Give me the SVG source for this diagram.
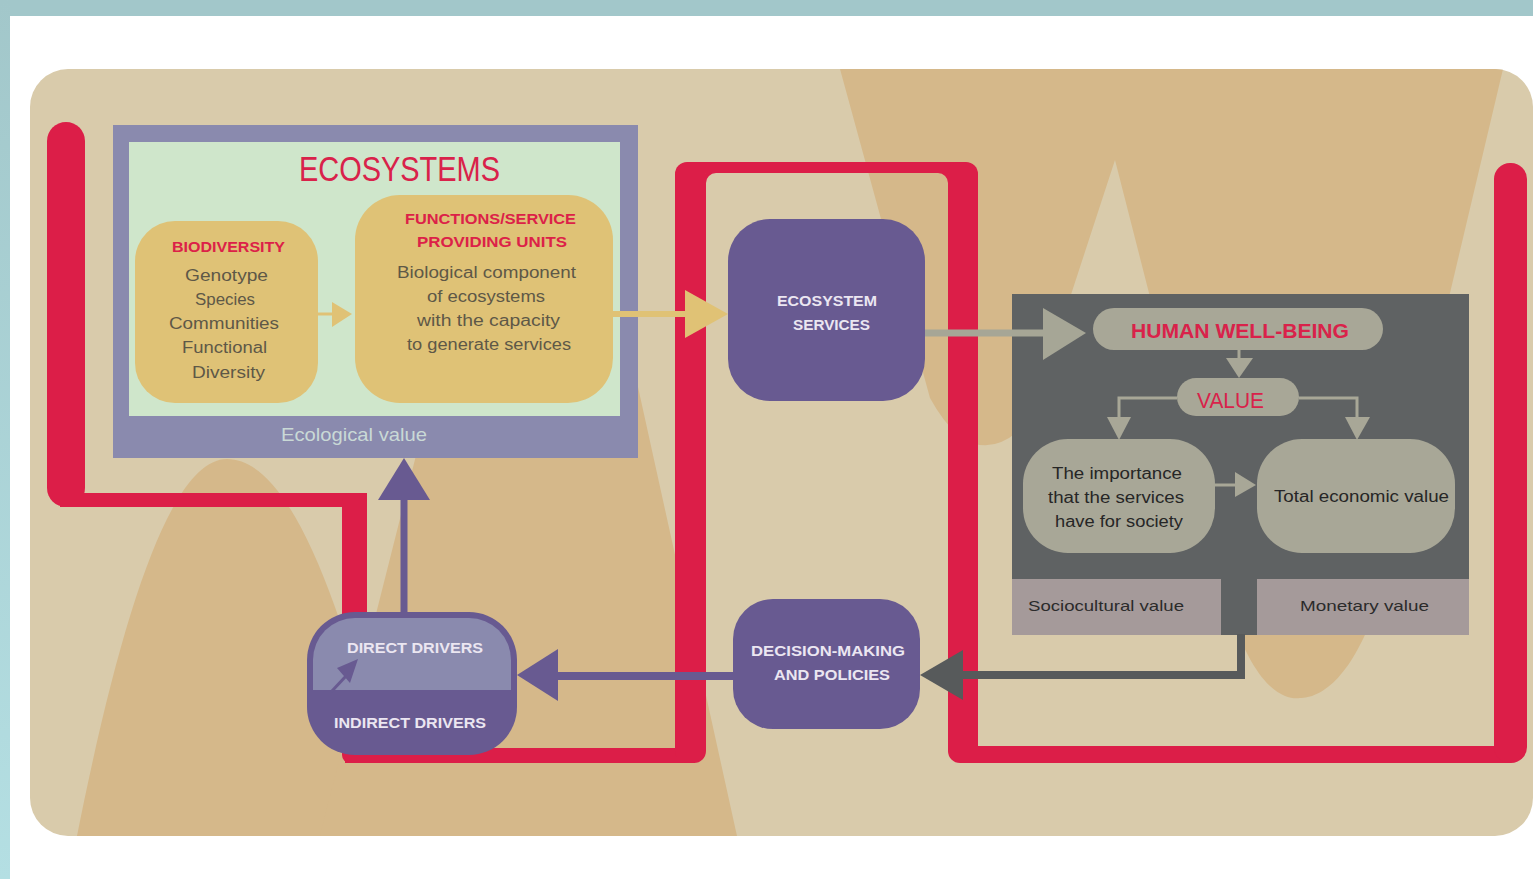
<svg xmlns="http://www.w3.org/2000/svg" width="1533" height="879" viewBox="0 0 1533 879">
  <defs>
    <linearGradient id="tealEdge" x1="0" y1="0" x2="0" y2="1">
      <stop offset="0" stop-color="#a2c7ca"/>
      <stop offset="1" stop-color="#b4dfe3"/>
    </linearGradient>
    <clipPath id="panelClip">
      <rect x="30" y="69" width="1503" height="767" rx="38"/>
    </clipPath>
    <style>
      .sans{font-family:"Liberation Sans",Arial,"DejaVu Sans",sans-serif}
      .red{fill:#dc1e48}
      .tan{fill:#d5b88a}
      .purple{fill:#685a91}
      .ybox{fill:#dfc276}
      .pill{fill:#a8a797}
      .cell{fill:#a59a9a}
      .title{fill:#d9224a}
      .body{fill:#5e5847;font-size:16px}
      .head{fill:#dc2148;font-size:15px;font-weight:bold}
      .light{fill:#ebe6f1;font-size:14px;font-weight:bold}
      .dark{fill:#262626;font-size:16px}
      .cellText{fill:#2b2b2b;font-size:15px}
    </style>
  </defs>

  <!-- page frame -->
  <rect x="0" y="0" width="1533" height="879" fill="#ffffff"/>
  <rect x="0" y="0" width="1533" height="16" fill="#a2c7ca"/>
  <rect x="0" y="0" width="10" height="879" fill="url(#tealEdge)"/>

  <!-- backdrop panel with hill shapes -->
  <g id="backdrop">
    <rect x="30" y="69" width="1503" height="767" rx="38" fill="#d9cbab"/>
    <g clip-path="url(#panelClip)">
      <path class="tan" d="M77 836 C120 620 170 459 227 459 C280 459 330 560 380 760 L400 836 Z"/>
      <path class="tan" d="M320 836 L377 610 L430 400 C450 320 470 170 540 170 C600 170 610 290 638 387 L737 836 Z"/>
      <path class="tan" d="M840 69 L930 398 Q975 480 1030 420 L1115 160 L1230 610 C1255 690 1285 700 1300 698 C1320 698 1350 680 1375 610 L1503 69 Z"/>
    </g>
  </g>

  <!-- red feedback band -->
  <g id="band">
    <rect class="red" x="47" y="122" width="38" height="385" rx="19"/>
    <rect class="red" x="60" y="493" width="307" height="14"/>
    <rect class="red" x="342" y="493" width="25" height="270" rx="8"/>
    <rect class="red" x="345" y="748" width="350" height="15"/>
    <rect class="red" x="675" y="162" width="31" height="601" rx="12"/>
    <rect class="red" x="687" y="162" width="279" height="11"/>
    <rect class="red" x="948" y="162" width="30" height="601" rx="12"/>
    <rect class="red" x="960" y="746" width="550" height="17"/>
    <rect class="red" x="1494" y="163" width="33" height="600" rx="16"/>
    <path class="red" d="M706 173 h10 a10 10 0 0 0 -10 10 z"/>
    <path class="red" d="M948 173 h-10 a10 10 0 0 1 10 10 z"/>
  </g>

  <!-- ecosystems block -->
  <g id="ecosystems">
    <rect x="113" y="125" width="525" height="333" fill="#8a8aae"/>
    <rect x="129" y="142" width="491" height="274" fill="#cfe6cb"/>
    <text class="sans title" x="399.5" y="181" font-size="35" text-anchor="middle" textLength="201" lengthAdjust="spacingAndGlyphs">ECOSYSTEMS</text>
    <text class="sans" x="354" y="441" font-size="19" fill="#c9d9d6" text-anchor="middle" textLength="146" lengthAdjust="spacingAndGlyphs">Ecological value</text>
  </g>

  <g id="biodiversity">
    <rect class="ybox" x="135" y="221" width="183" height="182" rx="40"/>
    <text class="sans head" x="228.5" y="252" text-anchor="middle" textLength="113" lengthAdjust="spacingAndGlyphs">BIODIVERSITY</text>
    <text class="sans body" x="226.5" y="281" text-anchor="middle" textLength="83" lengthAdjust="spacingAndGlyphs">Genotype</text>
    <text class="sans body" x="225" y="305" text-anchor="middle" textLength="60" lengthAdjust="spacingAndGlyphs">Species</text>
    <text class="sans body" x="224" y="329" text-anchor="middle" textLength="110" lengthAdjust="spacingAndGlyphs">Communities</text>
    <text class="sans body" x="224.5" y="353" text-anchor="middle" textLength="85" lengthAdjust="spacingAndGlyphs">Functional</text>
    <text class="sans body" x="228.5" y="378" text-anchor="middle" textLength="73" lengthAdjust="spacingAndGlyphs">Diversity</text>
  </g>

  <g id="functions">
    <rect class="ybox" x="355" y="195" width="258" height="208" rx="45"/>
    <text class="sans head" x="490.5" y="224" text-anchor="middle" textLength="171" lengthAdjust="spacingAndGlyphs">FUNCTIONS/SERVICE</text>
    <text class="sans head" x="492" y="247" text-anchor="middle" textLength="150" lengthAdjust="spacingAndGlyphs">PROVIDING UNITS</text>
    <text class="sans body" x="486.5" y="278" font-size="15" text-anchor="middle" textLength="179" lengthAdjust="spacingAndGlyphs">Biological component</text>
    <text class="sans body" x="486" y="302" font-size="15" text-anchor="middle" textLength="118" lengthAdjust="spacingAndGlyphs">of ecosystems</text>
    <text class="sans body" x="488.5" y="326" font-size="15" text-anchor="middle" textLength="143" lengthAdjust="spacingAndGlyphs">with the capacity</text>
    <text class="sans body" x="489" y="350" font-size="15" text-anchor="middle" textLength="164" lengthAdjust="spacingAndGlyphs">to generate services</text>
  </g>

  <g id="ecosystem-services">
    <rect class="purple" x="728" y="219" width="197" height="182" rx="42"/>
    <text class="sans light" x="827" y="306" text-anchor="middle" textLength="100" lengthAdjust="spacingAndGlyphs">ECOSYSTEM</text>
    <text class="sans light" x="831.5" y="330" text-anchor="middle" textLength="77" lengthAdjust="spacingAndGlyphs">SERVICES</text>
  </g>

  <g id="decision-making">
    <rect class="purple" x="733" y="599" width="187" height="130" rx="40"/>
    <text class="sans light" x="828" y="656" text-anchor="middle" textLength="154" lengthAdjust="spacingAndGlyphs">DECISION-MAKING</text>
    <text class="sans light" x="832" y="680" text-anchor="middle" textLength="116" lengthAdjust="spacingAndGlyphs">AND POLICIES</text>
  </g>

  <g id="drivers">
    <rect class="purple" x="307" y="612" width="210" height="143" rx="48"/>
    <path d="M313 690 L313 660 A42 42 0 0 1 355 618 L469 618 A42 42 0 0 1 511 660 L511 690 Z" fill="#8a8aae"/>
    <text class="sans light" x="415" y="653" font-size="15" text-anchor="middle" textLength="136" lengthAdjust="spacingAndGlyphs">DIRECT DRIVERS</text>
    <text class="sans light" x="410" y="728" font-size="15" text-anchor="middle" textLength="152" lengthAdjust="spacingAndGlyphs">INDIRECT DRIVERS</text>
    <line x1="331" y1="692" x2="347" y2="675" stroke="#685a91" stroke-width="3"/>
    <polygon class="purple" points="358,659 337,668 350,683"/>
  </g>

  <g id="human-well-being">
    <rect x="1012" y="294" width="457" height="341" fill="#5f6263"/>
    <rect class="cell" x="1012" y="579" width="209" height="56"/>
    <rect class="cell" x="1257" y="579" width="212" height="56"/>
    <text class="sans cellText" x="1106" y="611" text-anchor="middle" textLength="156" lengthAdjust="spacingAndGlyphs">Sociocultural value</text>
    <text class="sans cellText" x="1364.5" y="611" text-anchor="middle" textLength="129" lengthAdjust="spacingAndGlyphs">Monetary value</text>
  </g>

  <g id="hwb-title">
    <rect class="pill" x="1093" y="308" width="290" height="42" rx="21"/>
    <text class="sans title" x="1240" y="338" font-size="21" font-weight="bold" text-anchor="middle" textLength="218" lengthAdjust="spacingAndGlyphs">HUMAN WELL-BEING</text>
  </g>

  <g id="value">
    <rect class="pill" x="1177" y="378" width="122" height="38" rx="19"/>
    <text class="sans title" x="1230.5" y="408" font-size="22" text-anchor="middle" textLength="67" lengthAdjust="spacingAndGlyphs">VALUE</text>
  </g>

  <g id="social-importance">
    <rect class="pill" x="1023" y="439" width="192" height="114" rx="45"/>
    <text class="sans dark" x="1117" y="479" text-anchor="middle" textLength="130" lengthAdjust="spacingAndGlyphs">The importance</text>
    <text class="sans dark" x="1116" y="503" text-anchor="middle" textLength="136" lengthAdjust="spacingAndGlyphs">that the services</text>
    <text class="sans dark" x="1119" y="527" text-anchor="middle" textLength="128" lengthAdjust="spacingAndGlyphs">have for society</text>
  </g>

  <g id="total-economic-value">
    <rect class="pill" x="1257" y="439" width="198" height="114" rx="45"/>
    <text class="sans dark" x="1361.5" y="502" text-anchor="middle" textLength="175" lengthAdjust="spacingAndGlyphs">Total economic value</text>
  </g>

  <!-- connectors -->
  <g id="connectors">
    <!-- biodiversity to functions -->
    <line x1="318" y1="314" x2="334" y2="314" stroke="#e0c275" stroke-width="3"/>
    <polygon points="332,302 332,327 352,314" fill="#e0c275"/>
    <!-- functions to ecosystem services -->
    <line x1="613" y1="314" x2="688" y2="314" stroke="#e0c275" stroke-width="6"/>
    <polygon points="685,290 685,338 728,314" fill="#e0c275"/>
    <!-- ecosystem services to human well-being -->
    <line x1="925" y1="333" x2="1045" y2="333" stroke="#a6a696" stroke-width="7"/>
    <polygon points="1043,308 1043,360 1086,333" fill="#a6a696"/>
    <!-- well-being to value -->
    <line x1="1239" y1="350" x2="1239" y2="360" stroke="#a8a797" stroke-width="3"/>
    <polygon points="1226,358 1253,358 1239,378" fill="#a8a797"/>
    <!-- value branches -->
    <polyline points="1177,398 1119,398 1119,420" fill="none" stroke="#a8a797" stroke-width="3"/>
    <polygon points="1107,417 1131,417 1119,440" fill="#a8a797"/>
    <polyline points="1299,398 1357,398 1357,420" fill="none" stroke="#a8a797" stroke-width="3"/>
    <polygon points="1345,417 1370,417 1357,440" fill="#a8a797"/>
    <!-- importance to economic value -->
    <line x1="1215" y1="485" x2="1237" y2="485" stroke="#a8a797" stroke-width="3"/>
    <polygon points="1235,472 1235,497 1256,485" fill="#a8a797"/>
    <!-- well-being back to decision-making -->
    <polyline points="1241,634 1241,675 960,675" fill="none" stroke="#575a5b" stroke-width="8"/>
    <polygon points="920,675 963,650 963,700" fill="#575a5b"/>
    <!-- decision-making to drivers -->
    <line x1="555" y1="676" x2="735" y2="676" stroke="#685a91" stroke-width="8"/>
    <polygon class="purple" points="517,675 558,649 558,701"/>
    <!-- drivers to ecosystems -->
    <line x1="404" y1="612" x2="404" y2="496" stroke="#685a91" stroke-width="7"/>
    <polygon class="purple" points="378,500 430,500 404,458"/>
  </g>
</svg>
